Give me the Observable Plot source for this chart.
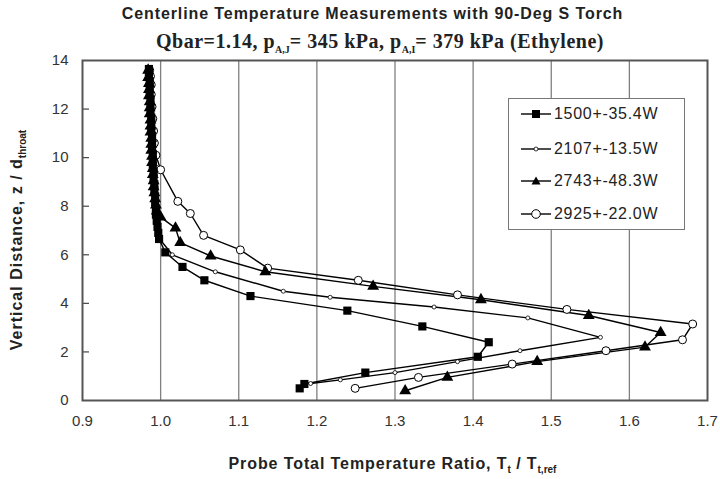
<!DOCTYPE html>
<html><head><meta charset="utf-8">
<script src="https://cdn.jsdelivr.net/npm/d3@7"></script>
<script src="https://cdn.jsdelivr.net/npm/@observablehq/plot@0.6"></script>
<style>
body{margin:0;background:#fff;}
#wrap{position:relative;width:720px;height:479px;font-family:Arial,"Liberation Sans",sans-serif;color:#222;}
.t1{position:absolute;left:0;width:745px;top:5px;text-align:center;font-weight:bold;font-size:16px;letter-spacing:0.9px;}
.t2{position:absolute;left:0;width:760px;top:30px;text-align:center;font-weight:bold;font-size:20px;letter-spacing:0.5px;font-family:"Liberation Serif","Times New Roman",serif;}
.xl{position:absolute;left:0;width:785px;top:455px;text-align:center;font-weight:bold;font-size:16px;letter-spacing:0.9px;}
.yl{position:absolute;left:18px;top:240px;transform:translate(-50%,-50%) rotate(-90deg);white-space:nowrap;font-weight:bold;font-size:16px;letter-spacing:1px;}
sub{font-size:10px;letter-spacing:0;}
#legend{position:absolute;left:508px;top:98px;width:175px;height:130px;border:1px solid #777;background:#fff;}
.le{position:absolute;left:12px;height:20px;display:flex;align-items:center;font-size:16px;letter-spacing:0.7px;}
.le svg{margin-right:3px;}
</style></head>
<body><div id="wrap">
<div class="t1">Centerline Temperature Measurements with 90-Deg S Torch</div>
<div class="t2">Qbar=1.14, p<sub>A,J</sub>= 345 kPa, p<sub>A,I</sub>= 379 kPa (Ethylene)</div>
<div class="yl">Vertical Distance, z / d<sub>throat</sub></div>
<div class="xl">Probe Total Temperature Ratio, T<sub>t</sub> / T<sub>t,ref</sub></div>
<div id="chart"></div>
<div id="legend"></div>
</div>
<script>
const seriesNames = ["1500+-35.4W","2107+-13.5W","2743+-48.3W","2925+-22.0W"];
const xTicks = [0.9,1.0,1.1,1.2,1.3,1.4,1.5,1.6,1.7];
const gridX = [1.0,1.1,1.2,1.3,1.4,1.5,1.6];
const yTicks = [0,2,4,6,8,10,12,14];

// 1500+-35.4W (filled squares)
const s1T = [1.178,1.184,1.262,1.406,1.420,1.335,1.239,1.115,1.056,1.028,1.006,0.998,
  0.997,0.996,0.995,0.994,0.994,0.993,0.993,0.992,0.992,0.991,0.991,0.990,0.990,0.990,0.989,0.989,0.989,0.988,0.988,0.988,0.987,0.987,0.987,0.986,0.986,0.986,0.985,0.985];
const s1Z = [0.50,0.68,1.15,1.80,2.40,3.05,3.70,4.30,4.95,5.50,6.10,6.65,
  6.90,7.15,7.40,7.65,7.90,8.15,8.40,8.65,8.90,9.15,9.40,9.65,9.90,10.15,10.40,10.65,10.90,11.15,11.40,11.65,11.90,12.15,12.40,12.65,12.90,13.15,13.40,13.65];
// 2107+-13.5W (small open circles)
const s2T = [1.192,1.230,1.300,1.380,1.460,1.563,1.470,1.350,1.217,1.157,1.070,1.015,1.000,0.995,0.993,0.992,0.991,0.990,0.989,0.989,0.988,0.988,0.987,0.987,0.986,0.986];
const s2Z = [0.70,0.85,1.15,1.60,2.05,2.60,3.40,3.85,4.25,4.50,5.30,6.00,6.60,7.30,7.80,8.30,8.80,9.30,9.80,10.30,10.80,11.30,11.80,12.30,12.80,13.30];
// 2743+-48.3W (filled triangles)
const s3T = [1.313,1.367,1.482,1.620,1.640,1.548,1.410,1.272,1.134,1.064,1.025,1.019,1.000,
  0.995,0.994,0.993,0.992,0.991,0.991,0.990,0.990,0.989,0.989,0.988,0.988,0.988,0.987,0.987,0.987,0.986,0.986,0.986,0.985,0.985,0.985,0.984,0.984];
const s3Z = [0.40,0.95,1.60,2.20,2.80,3.50,4.15,4.70,5.30,5.95,6.50,7.10,7.55,
  7.80,8.05,8.30,8.55,8.80,9.05,9.30,9.55,9.80,10.05,10.30,10.55,10.80,11.05,11.30,11.55,11.80,12.05,12.30,12.55,12.80,13.05,13.30,13.60];
// 2925+-22.0W (open circles)
const s4T = [1.249,1.330,1.450,1.570,1.668,1.681,1.520,1.380,1.253,1.137,1.102,1.055,1.038,1.022,1.000,0.994,0.992,0.991,0.990,0.989,0.988,0.988,0.987,0.986];
const s4Z = [0.50,0.95,1.50,2.05,2.50,3.15,3.75,4.35,4.95,5.45,6.20,6.80,7.70,8.20,9.50,10.10,10.60,11.10,11.60,12.10,12.60,13.00,13.35,13.60];

const mk = (T, Z, s) => T.map((t, i) => ({T: t, Z: Z[i], s}));
const d1 = mk(s1T, s1Z, seriesNames[0]);
const d2 = mk(s2T, s2Z, seriesNames[1]);
const d3s = mk(s3T, s3Z, seriesNames[2]);
const d4 = mk(s4T, s4Z, seriesNames[3]);
const all = [...d1, ...d2, ...d3s, ...d4];

const chart = Plot.plot({
  width: 720, height: 479,
  marginTop: 60, marginRight: 13, marginBottom: 79, marginLeft: 82,
  style: {fontFamily: "Arial, 'Liberation Sans', sans-serif", fontSize: "15px", color: "#333", background: "transparent"},
  x: {domain: [0.9, 1.7]},
  y: {domain: [0, 14]},
  marks: [
    Plot.ruleX(gridX, {stroke: "#808080", strokeWidth: 1.3}),
    Plot.axisX({ticks: xTicks, tickSize: 0, tickPadding: 15, tickFormat: d3.format(".1f"), label: null}),
    Plot.axisY({ticks: yTicks, tickSize: 0, tickPadding: 14, label: null}),
    Plot.ruleY(yTicks.slice(1, -1), {x1: 0.9, x2: 0.909, stroke: "#444", strokeWidth: 1.2}),
    Plot.line(all, {x: "T", y: "Z", z: "s", stroke: "#000", strokeWidth: 1.4}),
    Plot.dot(d4, {x: "T", y: "Z", r: 4, stroke: "#000", fill: "#fff", strokeWidth: 1}),
    Plot.dot(d2, {x: "T", y: "Z", r: 2, stroke: "#000", fill: "#fff", strokeWidth: 0.8}),
    Plot.dot(d3s, {x: "T", y: "Z", symbol: "triangle", r: 4.4, fill: "#000", stroke: "none"}),
    Plot.dot(d1, {x: "T", y: "Z", symbol: "square", r: 4.6, fill: "#000", stroke: "none"}),
    Plot.frame({stroke: "#555", strokeWidth: 2})
  ]
});
document.getElementById("chart").appendChild(chart);

// legend
const leg = document.getElementById("legend");
const sym = [
  '<rect x="11" y="6" width="8" height="8" fill="#000"/>',
  '<circle cx="15" cy="10" r="2" fill="#fff" stroke="#000" stroke-width="0.8"/>',
  '<path d="M15,5.5 L19.5,13.5 L10.5,13.5 Z" fill="#000"/>',
  '<circle cx="15" cy="10" r="4.3" fill="#fff" stroke="#000" stroke-width="1"/>'
];
const legTops = [5, 40, 72, 105];
seriesNames.forEach((n, i) => {
  const e = document.createElement("div");
  e.className = "le";
  e.style.top = legTops[i] + "px";
  e.innerHTML = '<svg width="30" height="20"><line x1="0" y1="10" x2="30" y2="10" stroke="#000" stroke-width="1.4"/>' + sym[i] + '</svg><span>' + n + '</span>';
  leg.appendChild(e);
});
</script>
</body></html>
